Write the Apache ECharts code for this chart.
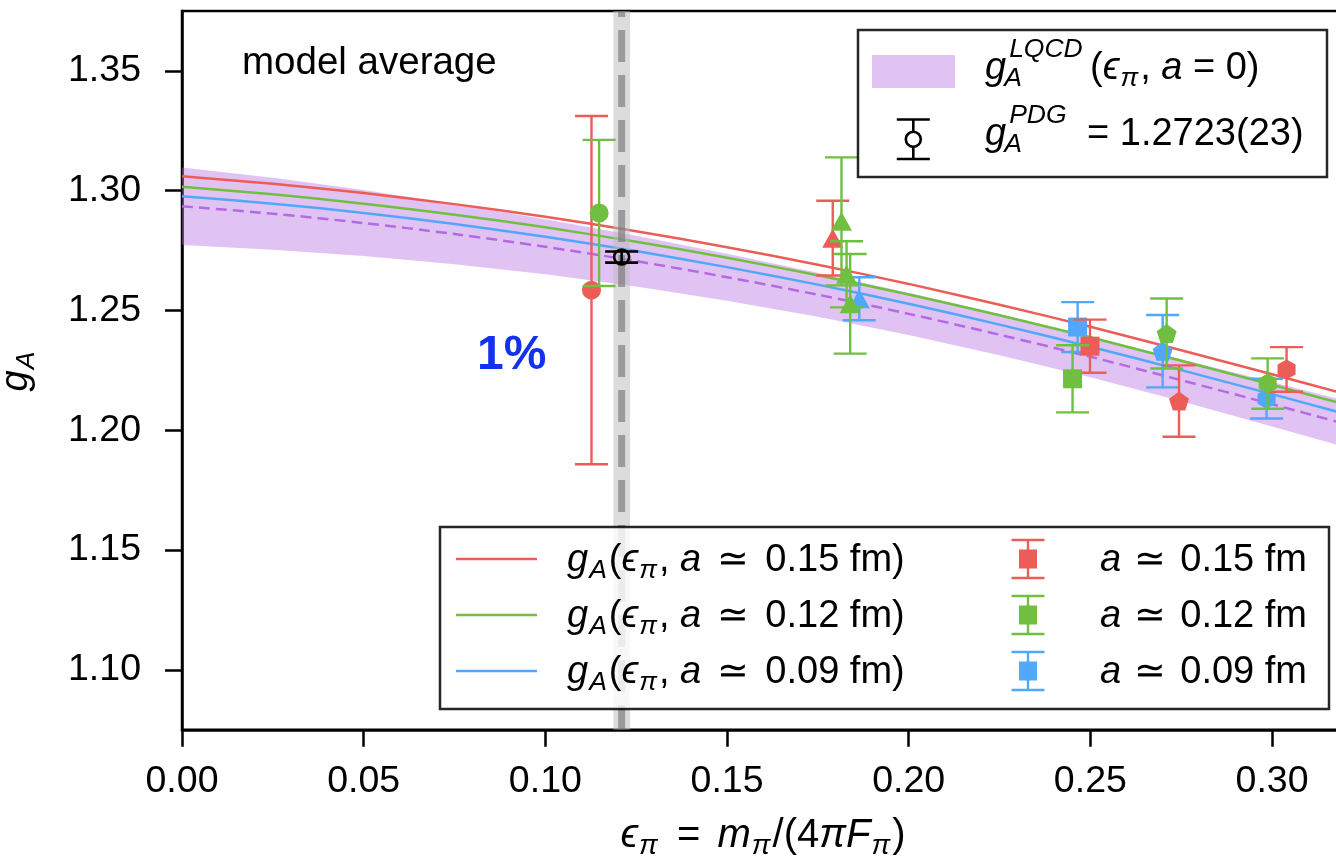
<!DOCTYPE html>
<html>
<head>
<meta charset="utf-8">
<script src="https://cdn.jsdelivr.net/npm/echarts@6/dist/echarts.min.js"></script>
<style>
html,body{margin:0;padding:0;background:#fff;}
#main{width:1336px;height:861px;}
</style>
</head>
<body>
<div id="main"></div>
<script>
// ================= DATA =================
const X_TICKS = [0.00, 0.05, 0.10, 0.15, 0.20, 0.25, 0.30];
const Y_TICKS = [1.10, 1.15, 1.20, 1.25, 1.30, 1.35];

// fit curves, sampled at CURVE_X
const CURVE_X  = [0, 0.025, 0.05, 0.075, 0.1, 0.125, 0.15, 0.175, 0.2, 0.225, 0.25, 0.275, 0.3, 0.32];
const FIT_A015 = [1.3060, 1.3029, 1.2990, 1.2944, 1.2891, 1.2831, 1.2764, 1.2691, 1.2611, 1.2524, 1.2432, 1.2334, 1.2234, 1.2152];
const FIT_A012 = [1.3016, 1.2985, 1.2946, 1.2900, 1.2847, 1.2787, 1.2720, 1.2647, 1.2567, 1.2480, 1.2388, 1.2290, 1.2190, 1.2108];
const FIT_A009 = [1.2977, 1.2946, 1.2907, 1.2861, 1.2808, 1.2748, 1.2681, 1.2608, 1.2528, 1.2441, 1.2349, 1.2251, 1.2151, 1.2069];
const FIT_A0   = [1.2935, 1.2904, 1.2865, 1.2819, 1.2766, 1.2706, 1.2639, 1.2566, 1.2486, 1.2399, 1.2307, 1.2209, 1.2109, 1.2027];
const BAND_UPPER = [1.3097, 1.3054, 1.3003, 1.2945, 1.2881, 1.2812, 1.2737, 1.2658, 1.2574, 1.2485, 1.2393, 1.2297, 1.2202, 1.2124];
const BAND_LOWER = [1.2773, 1.2754, 1.2727, 1.2693, 1.2651, 1.2600, 1.2541, 1.2474, 1.2398, 1.2313, 1.2221, 1.2121, 1.2016, 1.1930];

// lattice data points
const A015_X     = [0.1127, 0.1791, 0.2499, 0.2744, 0.3040];
const A015_Y     = [1.2585, 1.2802, 1.2351, 1.2122, 1.2254];
const A015_ERR   = [0.0727, 0.0156, 0.0111, 0.0149, 0.0093];
const A015_SHAPE = ['circle', 'triangle', 'square', 'pentagon', 'hexagon'];

const A012_X     = [0.1148, 0.1815, 0.1829, 0.1839, 0.2451, 0.2710, 0.2988];
const A012_Y     = [1.2907, 1.2872, 1.2651, 1.2528, 1.2215, 1.2404, 1.2195];
const A012_ERR   = [0.0305, 0.0267, 0.0138, 0.0208, 0.0140, 0.0146, 0.0105];
const A012_SHAPE = ['circle', 'triangle', 'triangle', 'triangle', 'square', 'pentagon', 'hexagon'];

const A009_X     = [0.1864, 0.2465, 0.2699, 0.2985];
const A009_Y     = [1.2549, 1.2431, 1.2330, 1.2132];
const A009_ERR   = [0.0090, 0.0104, 0.0151, 0.0083];
const A009_SHAPE = ['triangle', 'square', 'pentagon', 'hexagon'];

// PDG value and physical pion point
const PDG_X = [0.1210];
const PDG_Y = [1.2723];
const PDG_ERR = [0.0023];
const PHYS_EPS = [0.1210];
const PHYS_EPS_ERR = [0.0023];

const SPACINGS = ['0.15', '0.12', '0.09'];

// ================= STYLE =================
const RED = '#ec5d57', GREEN = '#70bf41', BLUE = '#51a7f9', PURPLE = '#b36ae2';
const BAND_FILL = 'rgba(179,106,226,0.4)';
const FAM = "'Liberation Sans', Arial, Helvetica, sans-serif";
const SUB_DY = 6, SUP_DY = 23;
const CAP = 16.5;

const SYMBOLS = {
  circle: 'circle',
  square: 'rect',
  triangle: 'triangle',
  pentagon: 'path://M0,-100 L95.1,-30.9 L58.8,80.9 L-58.8,80.9 L-95.1,-30.9 Z',
  hexagon: 'path://M0,-100 L86.6,-50 L86.6,50 L0,100 L-86.6,50 L-86.6,-50 Z'
};
const SYMBOL_SIZES = {
  circle: 19, square: 19, triangle: [21, 19], pentagon: [20, 19], hexagon: [18, 20]
};

// ================= TEXT HELPERS =================
const MCTX = document.createElement('canvas').getContext('2d');
function tw(t, size, italic, bold) {
  MCTX.font = (italic ? 'italic' : 'normal') + ' ' + (bold ? 'bold' : 'normal') + ' ' + size + 'px ' + FAM;
  return MCTX.measureText(t).width;
}
function txt(t, x, base, size, italic, o) {
  o = o || {};
  return {
    type: 'text', x: x, y: base - 0.3465 * size, z: o.z || 100, silent: true,
    style: {
      text: t, fill: o.color || '#000', fontSize: size, fontFamily: FAM,
      fontStyle: italic ? 'italic' : 'normal', fontWeight: o.bold ? 'bold' : 'normal',
      verticalAlign: 'middle', align: 'left'
    }
  };
}
function mathRun(x0, base, tokens, z, S, s) {
  S = S || 38; s = s || 26.5;
  const els = []; let cx = x0;
  tokens.forEach(function (tk) {
    const k = tk[0];
    if (k === 'at') { cx = tk[1]; }
    else if (k === 'gap') { cx += tk[1]; }
    else if (k === 'r' || k === 'i') {
      els.push(txt(tk[1], cx, base, S, k === 'i', {z: z}));
      cx += tw(tk[1], S, k === 'i');
    } else if (k === 'sub') {
      els.push(txt(tk[1], cx + 1, base + SUB_DY, s, true, {z: z}));
      cx += tw(tk[1], s, true) + 3;
    } else if (k === 'ss') {
      const a = tw(tk[1], s, true), b = tw(tk[2], s, true);
      els.push(txt(tk[1], cx - 2, base + SUB_DY, s, true, {z: z}));
      els.push(txt(tk[2], cx + 3, base - SUP_DY, s, true, {z: z}));
      cx += Math.max(a, b + 5) + 3;
    }
  });
  return {els: els, end: cx};
}

// ================= SERIES BUILDERS =================
function errSeries(xs, ys, es, color, z, lw) {
  return {
    type: 'custom', coordinateSystem: 'cartesian2d', z: z, silent: true,
    data: xs.map(function (x, i) { return [x, ys[i], es[i]]; }),
    renderItem: function (p, api) {
      const x = api.value(0), y = api.value(1), e = api.value(2);
      const t = api.coord([x, y + e]), b = api.coord([x, y - e]);
      const st = {stroke: color, lineWidth: lw || 2.4};
      return {type: 'group', children: [
        {type: 'line', shape: {x1: t[0], y1: t[1], x2: b[0], y2: b[1]}, style: st},
        {type: 'line', shape: {x1: t[0] - CAP, y1: t[1], x2: t[0] + CAP, y2: t[1]}, style: st},
        {type: 'line', shape: {x1: b[0] - CAP, y1: b[1], x2: b[0] + CAP, y2: b[1]}, style: st}
      ]};
    }
  };
}
function markerSeries(xs, ys, shapes, color, z) {
  return {
    type: 'scatter', z: z, silent: true,
    data: xs.map(function (x, i) {
      return {value: [x, ys[i]], symbol: SYMBOLS[shapes[i]], symbolSize: SYMBOL_SIZES[shapes[i]]};
    }),
    itemStyle: {color: color, opacity: 1, borderWidth: 0},
    emphasis: {disabled: true}
  };
}
function lineSeries(ys, color, z, dashed) {
  return {
    type: 'line', z: z, silent: true, showSymbol: false, symbol: 'none', smooth: 0.3,
    data: CURVE_X.map(function (x, i) { return [x, ys[i]]; }),
    lineStyle: {color: color, width: 2.5, type: dashed ? [11, 6] : 'solid'},
    emphasis: {disabled: true}
  };
}

const series = [
  // LQCD continuum band
  {
    type: 'custom', coordinateSystem: 'cartesian2d', z: 1, silent: true,
    data: CURVE_X.map(function (x, i) { return [x, BAND_LOWER[i], BAND_UPPER[i]]; }),
    renderItem: function (p, api) {
      if (p.dataIndex !== 0) return null;
      const up = CURVE_X.map(function (x, i) { return api.coord([x, BAND_UPPER[i]]); });
      const lo = CURVE_X.map(function (x, i) { return api.coord([x, BAND_LOWER[i]]); }).reverse();
      return {type: 'polygon', shape: {points: up.concat(lo)}, style: {fill: BAND_FILL}};
    }
  },
  lineSeries(FIT_A0, PURPLE, 2, true),
  lineSeries(FIT_A015, RED, 3, false),
  lineSeries(FIT_A012, GREEN, 3, false),
  lineSeries(FIT_A009, BLUE, 3, false),
  // physical point vertical band
  {
    type: 'custom', coordinateSystem: 'cartesian2d', z: 5, silent: true,
    data: PHYS_EPS.map(function (x, i) { return [x, PHYS_EPS_ERR[i]]; }),
    renderItem: function (p, api) {
      const cs = p.coordSys;
      const x = api.value(0), e = api.value(1);
      const l = api.coord([x - e, 1.2])[0], r = api.coord([x + e, 1.2])[0], c = api.coord([x, 1.2])[0];
      return {type: 'group', children: [
        {type: 'rect', shape: {x: l, y: cs.y, width: r - l, height: cs.height}, style: {fill: 'rgba(185,185,185,0.5)'}},
        {type: 'line', shape: {x1: c, y1: cs.y, x2: c, y2: cs.y + cs.height},
         style: {stroke: 'rgba(115,115,115,0.62)', lineWidth: 7, lineDash: [32, 13], lineDashOffset: 26}}
      ]};
    }
  },
  errSeries(A009_X, A009_Y, A009_ERR, BLUE, 10),
  markerSeries(A009_X, A009_Y, A009_SHAPE, BLUE, 11),
  errSeries(A015_X, A015_Y, A015_ERR, RED, 12),
  markerSeries(A015_X, A015_Y, A015_SHAPE, RED, 13),
  errSeries(A012_X, A012_Y, A012_ERR, GREEN, 14),
  markerSeries(A012_X, A012_Y, A012_SHAPE, GREEN, 15),
  errSeries(PDG_X, PDG_Y, PDG_ERR, '#000', 16, 2.6),
  {
    type: 'scatter', z: 17, silent: true,
    data: PDG_X.map(function (x, i) { return [x, PDG_Y[i]]; }),
    symbol: 'circle', symbolSize: 15,
    itemStyle: {color: 'rgba(255,255,255,0)', borderColor: '#000', borderWidth: 2.6, opacity: 1},
    emphasis: {disabled: true}
  }
];

// ================= GRAPHIC (texts, legends) =================
let G = [];
G.push(txt('model average', 242, 77, 38.5, false, {z: 50}));
G.push(txt('1%', 477, 372, 48, false, {z: 50, bold: true, color: '#1232f0'}));

// top legend
G.push({type: 'rect', z: 90, silent: true, shape: {x: 858, y: 30, width: 469, height: 147},
  style: {fill: 'rgba(255,255,255,0.8)', stroke: 'rgba(0,0,0,0.85)', lineWidth: 2.5}});
G.push({type: 'rect', z: 95, silent: true, shape: {x: 872, y: 55, width: 83, height: 33}, style: {fill: BAND_FILL}});
G.push({type: 'line', z: 95, silent: true, shape: {x1: 913.3, y1: 119.5, x2: 913.3, y2: 159}, style: {stroke: '#000', lineWidth: 2.6}});
G.push({type: 'line', z: 95, silent: true, shape: {x1: 913.3 - CAP, y1: 119.5, x2: 913.3 + CAP, y2: 119.5}, style: {stroke: '#000', lineWidth: 2.6}});
G.push({type: 'line', z: 95, silent: true, shape: {x1: 913.3 - CAP, y1: 159, x2: 913.3 + CAP, y2: 159}, style: {stroke: '#000', lineWidth: 2.6}});
G.push({type: 'circle', z: 96, silent: true, shape: {cx: 913.3, cy: 139.3, r: 7.5}, style: {fill: '#fff', stroke: '#000', lineWidth: 2.6}});
G = G.concat(mathRun(985, 81.7, [['i', 'g'], ['ss', 'A', 'LQCD'], ['at', 1090], ['r', '('], ['i', 'ϵ'], ['sub', 'π'], ['r', ', '], ['i', 'a'], ['r', ' = 0)']], 100).els);
G = G.concat(mathRun(985, 148, [['i', 'g'], ['ss', 'A', 'PDG'], ['at', 1087], ['r', '= 1.2723(23)']], 100).els);

// bottom legend
G.push({type: 'rect', z: 90, silent: true, shape: {x: 440, y: 527, width: 889, height: 182},
  style: {fill: 'rgba(255,255,255,0.8)', stroke: 'rgba(0,0,0,0.85)', lineWidth: 2.5}});
const LEG_COLORS = [RED, GREEN, BLUE];
SPACINGS.forEach(function (a, i) {
  const base = 573.5 + 56 * i, cy = base - 14.5, col = LEG_COLORS[i];
  G.push({type: 'line', z: 95, silent: true, shape: {x1: 456, y1: cy, x2: 537, y2: cy}, style: {stroke: col, lineWidth: 2.5}});
  G.push({type: 'line', z: 95, silent: true, shape: {x1: 1028, y1: cy - 19, x2: 1028, y2: cy + 19}, style: {stroke: col, lineWidth: 2.4}});
  G.push({type: 'line', z: 95, silent: true, shape: {x1: 1028 - CAP, y1: cy - 19, x2: 1028 + CAP, y2: cy - 19}, style: {stroke: col, lineWidth: 2.4}});
  G.push({type: 'line', z: 95, silent: true, shape: {x1: 1028 - CAP, y1: cy + 19, x2: 1028 + CAP, y2: cy + 19}, style: {stroke: col, lineWidth: 2.4}});
  G.push({type: 'rect', z: 96, silent: true, shape: {x: 1028 - 9, y: cy - 9.5, width: 18, height: 19}, style: {fill: col}});
  G = G.concat(mathRun(567, base, [['i', 'g'], ['sub', 'A'], ['r', '('], ['i', 'ϵ'], ['sub', 'π'], ['r', ', '], ['i', 'a'], ['gap', 5], ['r', ' ≃ '], ['gap', 6], ['r', a + ' fm)']], 100).els);
  G = G.concat(mathRun(1100, base, [['i', 'a'], ['gap', 2], ['r', ' ≃ '], ['gap', 4], ['r', a + ' fm']], 100).els);
});

// x axis name (centred on the axes)
const XNAME = [['i', 'ϵ'], ['sub', 'π'], ['gap', 6], ['r', ' = '], ['gap', 6], ['i', 'm'], ['sub', 'π'], ['r', '/('], ['r', '4'], ['i', 'π'], ['i', 'F'], ['sub', 'π'], ['r', ')']];
const xw = mathRun(0, 0, XNAME, 50, 40, 28).end;
G = G.concat(mathRun(763 - xw / 2, 850, XNAME, 50, 40, 28).els);

// y axis name (rotated, centred on the axes)
const YNAME = [['i', 'g'], ['sub', 'A']];
const yr = mathRun(0, 0, YNAME, 50);
G.push({type: 'group', x: 30, y: 370.5 + yr.end / 2, rotation: Math.PI / 2, silent: true, children: yr.els});

// ================= OPTION =================
const chart = echarts.init(document.getElementById('main'), null, {renderer: 'canvas'});
chart.setOption({
  animation: false,
  backgroundColor: '#fff',
  tooltip: {show: false},
  grid: {left: 182, right: -8.7, top: 11, bottom: 131.2, show: true, borderColor: '#000', borderWidth: 2.5,
         backgroundColor: 'transparent', containLabel: false, outerBoundsMode: 'none'},
  xAxis: {
    type: 'value', min: 0, max: 0.32,
    axisLine: {show: true, onZero: false, lineStyle: {color: '#000', width: 2.5}},
    axisTick: {show: true, inside: false, length: 17, lineStyle: {color: '#000', width: 2.5}, customValues: X_TICKS},
    axisLabel: {show: true, customValues: X_TICKS, formatter: function (v) { return Number(v).toFixed(2); },
                color: '#000', fontSize: 37.5, fontFamily: FAM, margin: 33},
    splitLine: {show: false}
  },
  yAxis: {
    type: 'value', min: 1.075, max: 1.375,
    axisLine: {show: true, onZero: false, lineStyle: {color: '#000', width: 2.5}},
    axisTick: {show: true, inside: false, length: 17, lineStyle: {color: '#000', width: 2.5}, customValues: Y_TICKS},
    axisLabel: {show: true, customValues: Y_TICKS, formatter: function (v) { return Number(v).toFixed(2); },
                color: '#000', fontSize: 37.5, fontFamily: FAM, margin: 41},
    splitLine: {show: false}
  },
  series: series,
  graphic: {elements: G}
});
</script>
</body>
</html>
